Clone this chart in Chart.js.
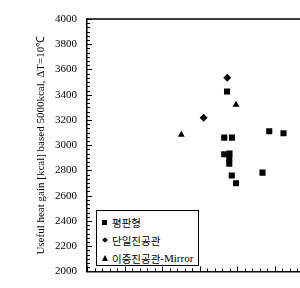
<!DOCTYPE html>
<html>
<head>
<meta charset="utf-8">
<script src="https://cdn.jsdelivr.net/npm/chart.js@4"></script>
<style>
  body { margin: 0; background: #fff; }
  #wrap { position: relative; width: 300px; height: 288px; }
  #legend {
    position: absolute; left: 96px; top: 210px; width: 103px; height: 56px;
    border: 1px solid #000; background: #fff; box-sizing: border-box;
    font: 10.5px "Noto Sans CJK KR", sans-serif; color: #000;
    padding-top: 2px;
  }
  #legend .row { height: 18px; display: flex; align-items: center; padding-left: 5px; white-space: nowrap; }
  #legend .m { display: inline-block; width: 6px; height: 6px; margin-right: 4px; position: relative; }
  #legend .sq { background: #000; width: 5px; height: 5px; margin-right: 5px; }
  #legend .dm { background: #000; width: 4px; height: 4px; transform: rotate(45deg); margin-left: 1px; margin-right: 5px; }
  #legend .tr { width: 0; height: 0; border-left: 3px solid transparent; border-right: 3px solid transparent; border-bottom: 6px solid #000; }
  #legend .en { font-family: "Liberation Serif", serif; font-size: 11px; }
</style>
</head>
<body>
<div id="wrap">
  <canvas id="chart" width="300" height="288"></canvas>
  <div id="legend">
    <div class="row"><span class="m sq"></span>평판형</div>
    <div class="row"><span class="m dm"></span>단일진공관</div>
    <div class="row"><span class="m tr"></span>이중진공관<span class="en">-Mirror</span></div>
  </div>
</div>
<script>
const seriesNames = ['평판형', '단일진공관', '이중진공관-Mirror'];

const flatX = [18.67, 18.3, 19.33, 24.3, 26.2, 18.3, 19.0, 18.97, 18.97, 19.3, 19.87, 23.4];
const flatY = [3426, 3060, 3060, 3111, 3095, 2928, 2933, 2891, 2853, 2760, 2698, 2783];

const singleX = [18.7, 15.55];
const singleY = [3535, 3217];

const doubleX = [19.87, 12.57];
const doubleY = [3320, 3083];

const yTicks = [2000, 2200, 2400, 2600, 2800, 3000, 3200, 3400, 3600, 3800, 4000];
const yTitle = 'Useful heat gain [kcal] based 5000kcal, \u0394T=10\u2103';

function toPoints(xs, ys) {
  return xs.map((x, i) => ({ x: x, y: ys[i] }));
}

// inward tick marks + top border line
const tickMarks = {
  id: 'tickMarks',
  afterDraw(chart) {
    const ctx = chart.ctx;
    const area = chart.chartArea;
    const xs = chart.scales.x;
    const ys = chart.scales.y;
    ctx.save();
    ctx.strokeStyle = '#000';
    ctx.lineWidth = 1;
    ctx.beginPath();
    const step = 200 / 6;
    for (let i = 0; i <= 60; i++) {
      const v = 2000 + i * step;
      const py = Math.round(ys.getPixelForValue(v)) + 0.5;
      const len = i % 6 === 0 ? 5 : 3;
      ctx.moveTo(area.left, py);
      ctx.lineTo(area.left + len, py);
    }
    for (let v = 0; v <= xs.max; v++) {
      const px = Math.round(xs.getPixelForValue(v)) + 0.5;
      const len = v % 5 === 0 ? 5 : 3;
      ctx.moveTo(px, area.bottom);
      ctx.lineTo(px, area.bottom - len);
    }
    ctx.stroke();
    ctx.lineWidth = 1.5;
    ctx.beginPath();
    ctx.moveTo(area.left - 0.75, area.top);
    ctx.lineTo(chart.width, area.top);
    ctx.stroke();
    ctx.restore();
  }
};

new Chart(document.getElementById('chart'), {
  type: 'scatter',
  data: {
    datasets: [
      {
        label: seriesNames[0],
        data: toPoints(flatX, flatY),
        pointStyle: 'rect',
        pointRadius: 4.3,
        backgroundColor: '#000',
        borderColor: '#000',
        borderWidth: 0
      },
      {
        label: seriesNames[1],
        data: toPoints(singleX, singleY),
        pointStyle: 'rectRot',
        pointRadius: 4,
        backgroundColor: '#000',
        borderColor: '#000',
        borderWidth: 0
      },
      {
        label: seriesNames[2],
        data: toPoints(doubleX, doubleY),
        pointStyle: 'triangle',
        pointRadius: 4,
        backgroundColor: '#000',
        borderColor: '#000',
        borderWidth: 0
      }
    ]
  },
  options: {
    responsive: false,
    animation: false,
    layout: { autoPadding: false, padding: { top: 19, right: 0, bottom: 0, left: 0 } },
    plugins: {
      legend: { display: false },
      tooltip: { enabled: false }
    },
    scales: {
      x: {
        type: 'linear',
        min: 0,
        max: 28.4,
        grid: { display: false },
        border: { display: true, color: '#000', width: 1.5 },
        ticks: { display: false },
        afterFit(scale) { scale.height = 11; }
      },
      y: {
        min: 2000,
        max: 4000,
        afterBuildTicks(scale) { scale.ticks = yTicks.map(v => ({ value: v })); },
        grid: { display: false, drawTicks: false },
        border: { display: true, color: '#000', width: 1.5 },
        ticks: {
          padding: 10,
          color: '#000',
          font: { family: 'Liberation Serif', size: 11 },
          callback: v => String(v)
        },
        title: {
          display: true,
          text: yTitle,
          color: '#000',
          font: { family: 'Liberation Serif', size: 11 },
          padding: { top: 35, bottom: 0 }
        },
        afterFit(scale) { scale.width = 87; }
      }
    }
  },
  plugins: [tickMarks]
});
</script>
</body>
</html>
